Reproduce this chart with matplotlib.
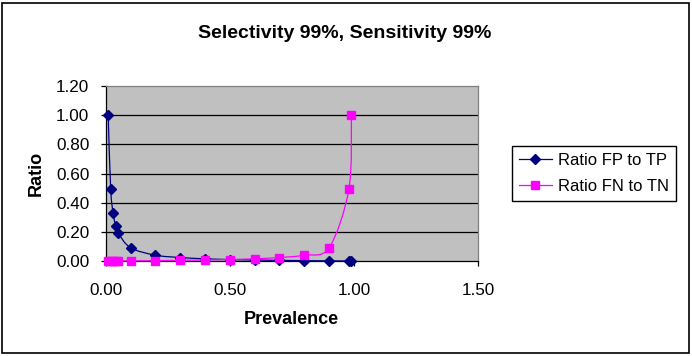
import numpy as np
import matplotlib
matplotlib.use('Agg')
from matplotlib import pyplot as plt
from matplotlib.path import Path
from matplotlib.patches import PathPatch, Rectangle
from matplotlib.lines import Line2D

plt.rcParams['font.family'] = ['Liberation Sans', 'DejaVu Sans']

title = 'Selectivity 99%, Sensitivity 99%'
xLabel = 'Prevalence'
yLabel = 'Ratio'
seriesNames = ['Ratio FP to TP', 'Ratio FN to TN']

prevalence = [0.01, 0.02, 0.03, 0.04, 0.05, 0.10, 0.20, 0.30, 0.40, 0.50,
              0.60, 0.70, 0.80, 0.90, 0.98, 0.99]
ratioFpTp = [1.00, 0.495, 0.327, 0.238, 0.192, 0.091, 0.040, 0.024, 0.015, 0.010,
             0.0067, 0.0043, 0.0025, 0.0011, 0.0002, 0.0001]
ratioFnTn = [0.0001, 0.0002, 0.0003, 0.0004, 0.0005, 0.0011, 0.0025, 0.0043, 0.0067, 0.010,
             0.015, 0.024, 0.040, 0.091, 0.495, 1.00]

xTicks = [0.0, 0.5, 1.0, 1.5]
yTicks = [0.0, 0.2, 0.4, 0.6, 0.8, 1.0, 1.2]

navy = '#000080'
magenta = '#FF00FF'

W, H = 692, 356


def smoothPath(xs, ys):
    # excel style smoothed line: catmull-rom turned into bezier segments
    pts = np.column_stack([xs, ys]).astype(float)
    n = len(pts)
    verts = [pts[0]]
    codes = [Path.MOVETO]
    for i in range(n - 1):
        p0 = pts[i - 1] if i > 0 else pts[i]
        p1 = pts[i]
        p2 = pts[i + 1]
        p3 = pts[i + 2] if i + 2 < n else pts[i + 1]
        c1 = p1 + (p2 - p0) / 6.0
        c2 = p2 - (p3 - p1) / 6.0
        verts += [c1, c2, p2]
        codes += [Path.CURVE4] * 3
    return Path(verts, codes)


fig = plt.figure(figsize=(W / 100, H / 100), dpi=100)
fig.patch.set_facecolor('white')

left, right, top, bottom = 105.7, 478, 86, 261
ax = fig.add_axes([left / W, 1 - bottom / H, (right - left) / W, (bottom - top) / H])
ax.set_facecolor('#C0C0C0')
ax.set_xlim(0, 1.5)
ax.set_ylim(0, 1.2)

for y in yTicks[1:-1]:
    ax.axhline(y, color='black', lw=0.9, zorder=1)

ax.add_patch(PathPatch(smoothPath(prevalence, ratioFpTp), fill=False, edgecolor=navy,
                       lw=0.9, zorder=3, clip_on=False))
ax.plot(prevalence, ratioFpTp, linestyle='none', marker='D', markersize=5.5,
        color=navy, zorder=4, clip_on=False)
ax.add_patch(PathPatch(smoothPath(prevalence, ratioFnTn), fill=False, edgecolor=magenta,
                       lw=0.9, zorder=5, clip_on=False))
ax.plot(prevalence, ratioFnTn, linestyle='none', marker='s', markersize=5.6,
        color=magenta, zorder=6, clip_on=False)

ax.set_xticks(xTicks)
ax.set_yticks(yTicks)
ax.set_xticklabels(['%.2f' % v for v in xTicks])
ax.set_yticklabels(['%.2f' % v for v in yTicks])
ax.tick_params(axis='both', direction='out', length=3.6, width=0.9, color='black',
               labelsize=12.3)
ax.tick_params(axis='x', pad=12.3)
ax.tick_params(axis='y', pad=8.2)

for s in ['left', 'bottom']:
    ax.spines[s].set_color('black')
    ax.spines[s].set_linewidth(0.9)
for s in ['top', 'right']:
    ax.spines[s].set_color('#808080')
    ax.spines[s].set_linewidth(0.9)

fig.text(345 / W, 1 - 33 / H, title, ha='center', va='center', fontsize=14,
         fontweight='bold')
fig.text(291 / W, 1 - 320 / H, xLabel, ha='center', va='center', fontsize=13,
         fontweight='bold')
fig.text(36 / W, 1 - 173.5 / H, yLabel, ha='center', va='center', fontsize=13,
         fontweight='bold', rotation=90)

handles = [Line2D([], [], color=navy, lw=0.9, marker='D', markersize=5.5),
           Line2D([], [], color=magenta, lw=0.9, marker='s', markersize=5.6)]
leg = fig.legend(handles, seriesNames, loc='center left',
                 bbox_to_anchor=(512 / W, 1 - 173.5 / H), fontsize=12,
                 frameon=True, fancybox=False, edgecolor='black', framealpha=1,
                 handlelength=2.0, handletextpad=0.35, borderpad=0.4,
                 labelspacing=0.65, borderaxespad=0)
leg.get_frame().set_linewidth(1.0)

fig.patches.append(Rectangle((2 / W, 3 / H), 687 / W, 350 / H, transform=fig.transFigure,
                             fill=False, edgecolor='black', lw=1.2))

fig.savefig('out.png', dpi=100)
